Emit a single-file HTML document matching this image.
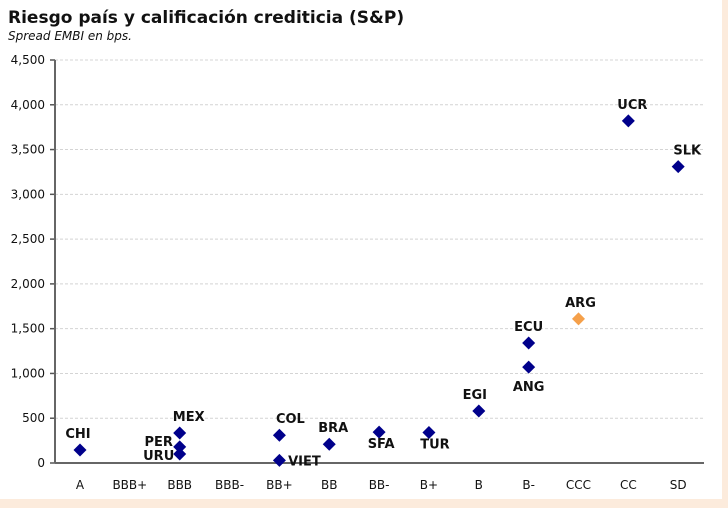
<!DOCTYPE html>
<html><head><meta charset="utf-8"><style>
body{margin:0;width:728px;height:508px;background:#fff;overflow:hidden;font-family:"DejaVu Sans","Liberation Sans",sans-serif}
#wrap{position:relative;width:728px;height:508px}
</style></head><body>
<div id="wrap">
<svg id="svg" width="728" height="508" xmlns="http://www.w3.org/2000/svg">
<rect x="0" y="499" width="728" height="9" fill="#fcebdc"/>
<rect x="722" y="0" width="6" height="508" fill="#fcebdc"/>
<text x="8" y="23" font-size="17" font-weight="bold" fill="#111">Riesgo país y calificación crediticia (S&amp;P)</text>
<text x="8" y="40" font-size="12" font-style="italic" fill="#111">Spread EMBI en bps.</text>
<g id="grid"></g><g id="axes"></g><g id="pts"></g>
</svg></div>
<script>
const categories=["A","BBB+","BBB","BBB-","BB+","BB","BB-","B+","B","B-","CCC","CC","SD"];
const yTicks=[0,500,1000,1500,2000,2500,3000,3500,4000,4500];
const yTickLabels=["0","500","1,000","1,500","2,000","2,500","3,000","3,500","4,000","4,500"];
const countries=["CHI","MEX","PER","URU","COL","VIET","BRA","SFA","TUR","EGI","ECU","ANG","ARG","UCR","SLK"];
const ratings=["A","BBB","BBB","BBB","BB+","BB+","BB","BB-","B+","B","B-","B-","CCC","CC","SD"];
const spreads=[145,335,180,100,310,30,210,345,340,580,1340,1070,1610,3820,3310];
const labelDX=[-2,9,-21,-21,11,25,4,2,6,-4,0,0,2,4,9];
const labelDY=[-12,-12,-1,6,-12,5,-12,16,16,-12,-12,24,-12,-12,-12];
const NS="http://www.w3.org/2000/svg";
const x0=55,x1=704,yB=463,yT=60;
const xs=c=>80+categories.indexOf(c)*49.85;
const ys=v=>yB-(v/4500)*(yB-yT);
function mk(t,a,p){const e=document.createElementNS(NS,t);for(const k in a)e.setAttribute(k,a[k]);p.appendChild(e);return e;}
const grid=document.getElementById('grid'),axes=document.getElementById('axes'),pts=document.getElementById('pts');
yTicks.forEach((v,i)=>{
 if(v>0){const l=mk('line',{x1:x0,x2:x1,y1:ys(v),y2:ys(v),stroke:'#d4d4d4','stroke-dasharray':'3,2','stroke-width':1},grid);
 }
 const tk=mk('line',{x1:x0-5,x2:x0,y1:ys(v),y2:ys(v),stroke:'#555','stroke-width':1.5},axes);
 
 const t=mk('text',{x:x0-10,y:ys(v)+4,'text-anchor':'end','font-size':12,fill:'#111'},axes);t.textContent=yTickLabels[i];
 
});
const ya=mk('line',{x1:x0,x2:x0,y1:yT,y2:yB,stroke:'#666','stroke-width':2},axes);

const xa=mk('line',{x1:x0,x2:x1,y1:yB,y2:yB,stroke:'#666','stroke-width':2},axes);

categories.forEach(c=>{const t=mk('text',{x:xs(c),y:489,'text-anchor':'middle','font-size':12,fill:'#111'},axes);t.textContent=c;
 });
countries.forEach((n,i)=>{
 const x=xs(ratings[i]),y=ys(spreads[i]);
 const col=n==="ARG"?'#f5a04a':'#00008b';
 const d=mk('polygon',{points:`${x},${y-6.5} ${x+6.5},${y} ${x},${y+6.5} ${x-6.5},${y}`,fill:col},pts);
 
 const t=mk('text',{x:x+labelDX[i],y:y+labelDY[i],'text-anchor':'middle','font-size':13,'font-weight':'bold',fill:'#111'},pts);t.textContent=n;
 
});
</script>
</body></html>
